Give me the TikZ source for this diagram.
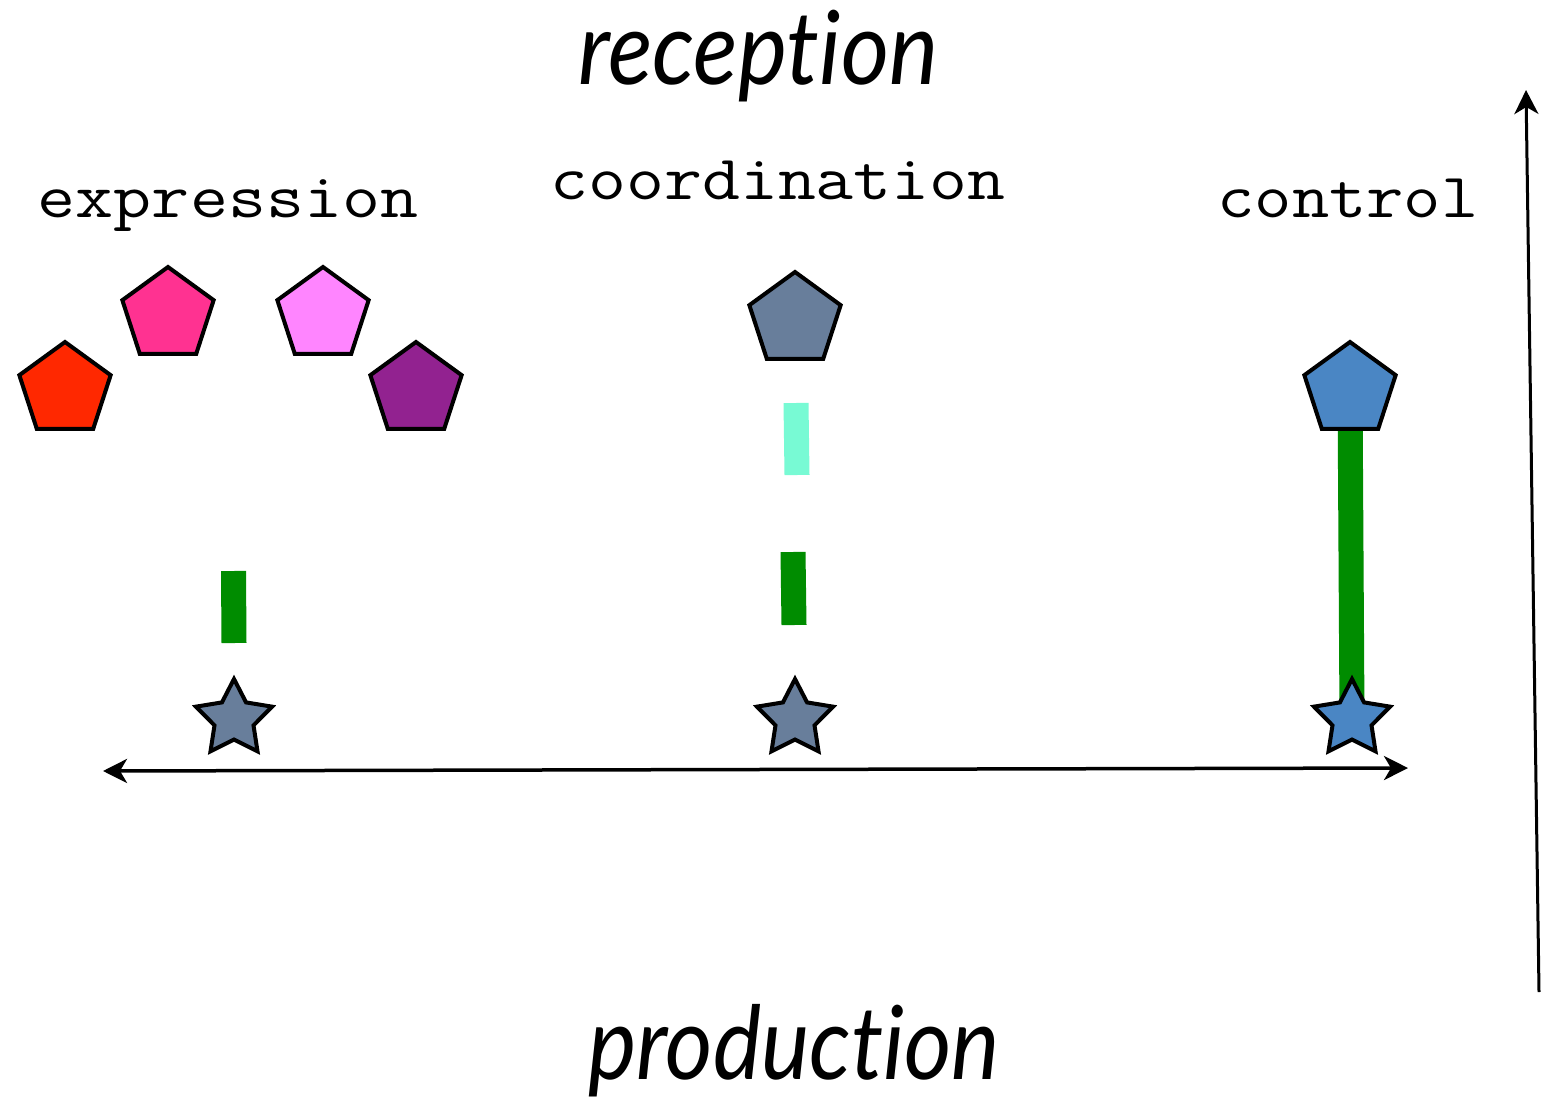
\documentclass[tikz,border=0pt]{standalone}
\usepackage{fontspec}
\usepackage{graphicx}
\newfontfamily\headfont[Ligatures=NoCommon]{Lato}
\usetikzlibrary{shapes.geometric,arrows.meta}
\pgfdeclarelayer{bg}
\pgfsetlayers{bg,main}
\definecolor{redP}{RGB}{255,40,0}
\definecolor{pinkP}{RGB}{255,50,145}
\definecolor{lpinkP}{RGB}{255,133,255}
\definecolor{purpleP}{RGB}{146,34,144}
\definecolor{slateP}{RGB}{104,126,155}
\definecolor{blueP}{RGB}{74,134,196}
\definecolor{greenB}{RGB}{0,140,0}
\definecolor{aquaB}{RGB}{120,250,212}
\tikzset{
  pent/.style={regular polygon, regular polygon sides=5, minimum size=96pt, inner sep=0pt, draw=black, line width=4pt},
  starshape/.style={star, star points=5, star point ratio=1.95, minimum size=80pt, inner sep=0pt, draw=black, line width=4pt},
  bar/.style={line width=25pt, line cap=butt},
  lbl/.style={inner sep=0pt, anchor=base, font=\ttfamily\fontsize{63}{63}\selectfont},
  ttl/.style={inner sep=0pt, anchor=base, font=\headfont\itshape\fontsize{102}{102}\selectfont},
  axis/.style={line width=3.5pt, >={Stealth[length=24pt,width=24pt,inset=7pt]}}
}
\begin{document}
\begin{tikzpicture}[x=1pt,y=-1pt]
\begin{pgfonlayer}{bg}
\fill[white] (0,0) rectangle (1541,1097);
\end{pgfonlayer}
\useasboundingbox (0,0) rectangle (1541,1097);

% titles
\node[ttl] (rec) at (758,85) {\resizebox{360pt}{\height}{reception}};
\node[ttl] (prod) at (794,1079) {\resizebox{412pt}{\height}{production}};

% labels
\node[lbl] (lexp) at (228,217) {\resizebox{380pt}{\height}{expression}};
\node[lbl] (lcoord) at (778,199) {\resizebox{455pt}{\height}{coordination}};
\node[lbl] (lctrl) at (1348,217) {\resizebox{261pt}{\height}{control}};

% pentagons
\node[pent, fill=redP] (p1) at (65,390) {};
\node[pent, fill=pinkP] (p2) at (168,315) {};
\node[pent, fill=lpinkP] (p3) at (323,315) {};
\node[pent, fill=purpleP] (p4) at (416,390) {};
\node[pent, fill=slateP] (pc) at (795,320) {};
\node[pent, fill=blueP] (pk) at (1350,390) {};

% stars
\node[starshape, fill=slateP] (s1) at (234,719) {};
\node[starshape, fill=slateP] (s2) at (795,719) {};
\node[starshape, fill=blueP] (s3) at (1352,719) {};

% bars
\coordinate (e1) at (233.5,571);
\coordinate (e2) at (234,643);
\coordinate (c1) at (796,403);
\coordinate (c2) at (797,475);
\coordinate (c3) at (793,552);
\coordinate (c4) at (794,625);
\draw[bar, greenB] (e1) -- (e2);
\draw[bar, aquaB] (c1) -- (c2);
\draw[bar, greenB] (c3) -- (c4);
\begin{pgfonlayer}{bg}
\draw[bar, greenB] (pk.center) -- (s3.center);
\end{pgfonlayer}

% axes
\coordinate (hL) at (103,771);
\coordinate (hR) at (1408,768);
\draw[axis, <->] (hL) -- (hR);
\coordinate (vB) at (1539,992);
\coordinate (vT) at (1526,90);
\draw[axis, line width=3pt, ->] (vB) -- (vT);
\end{tikzpicture}
\end{document}
